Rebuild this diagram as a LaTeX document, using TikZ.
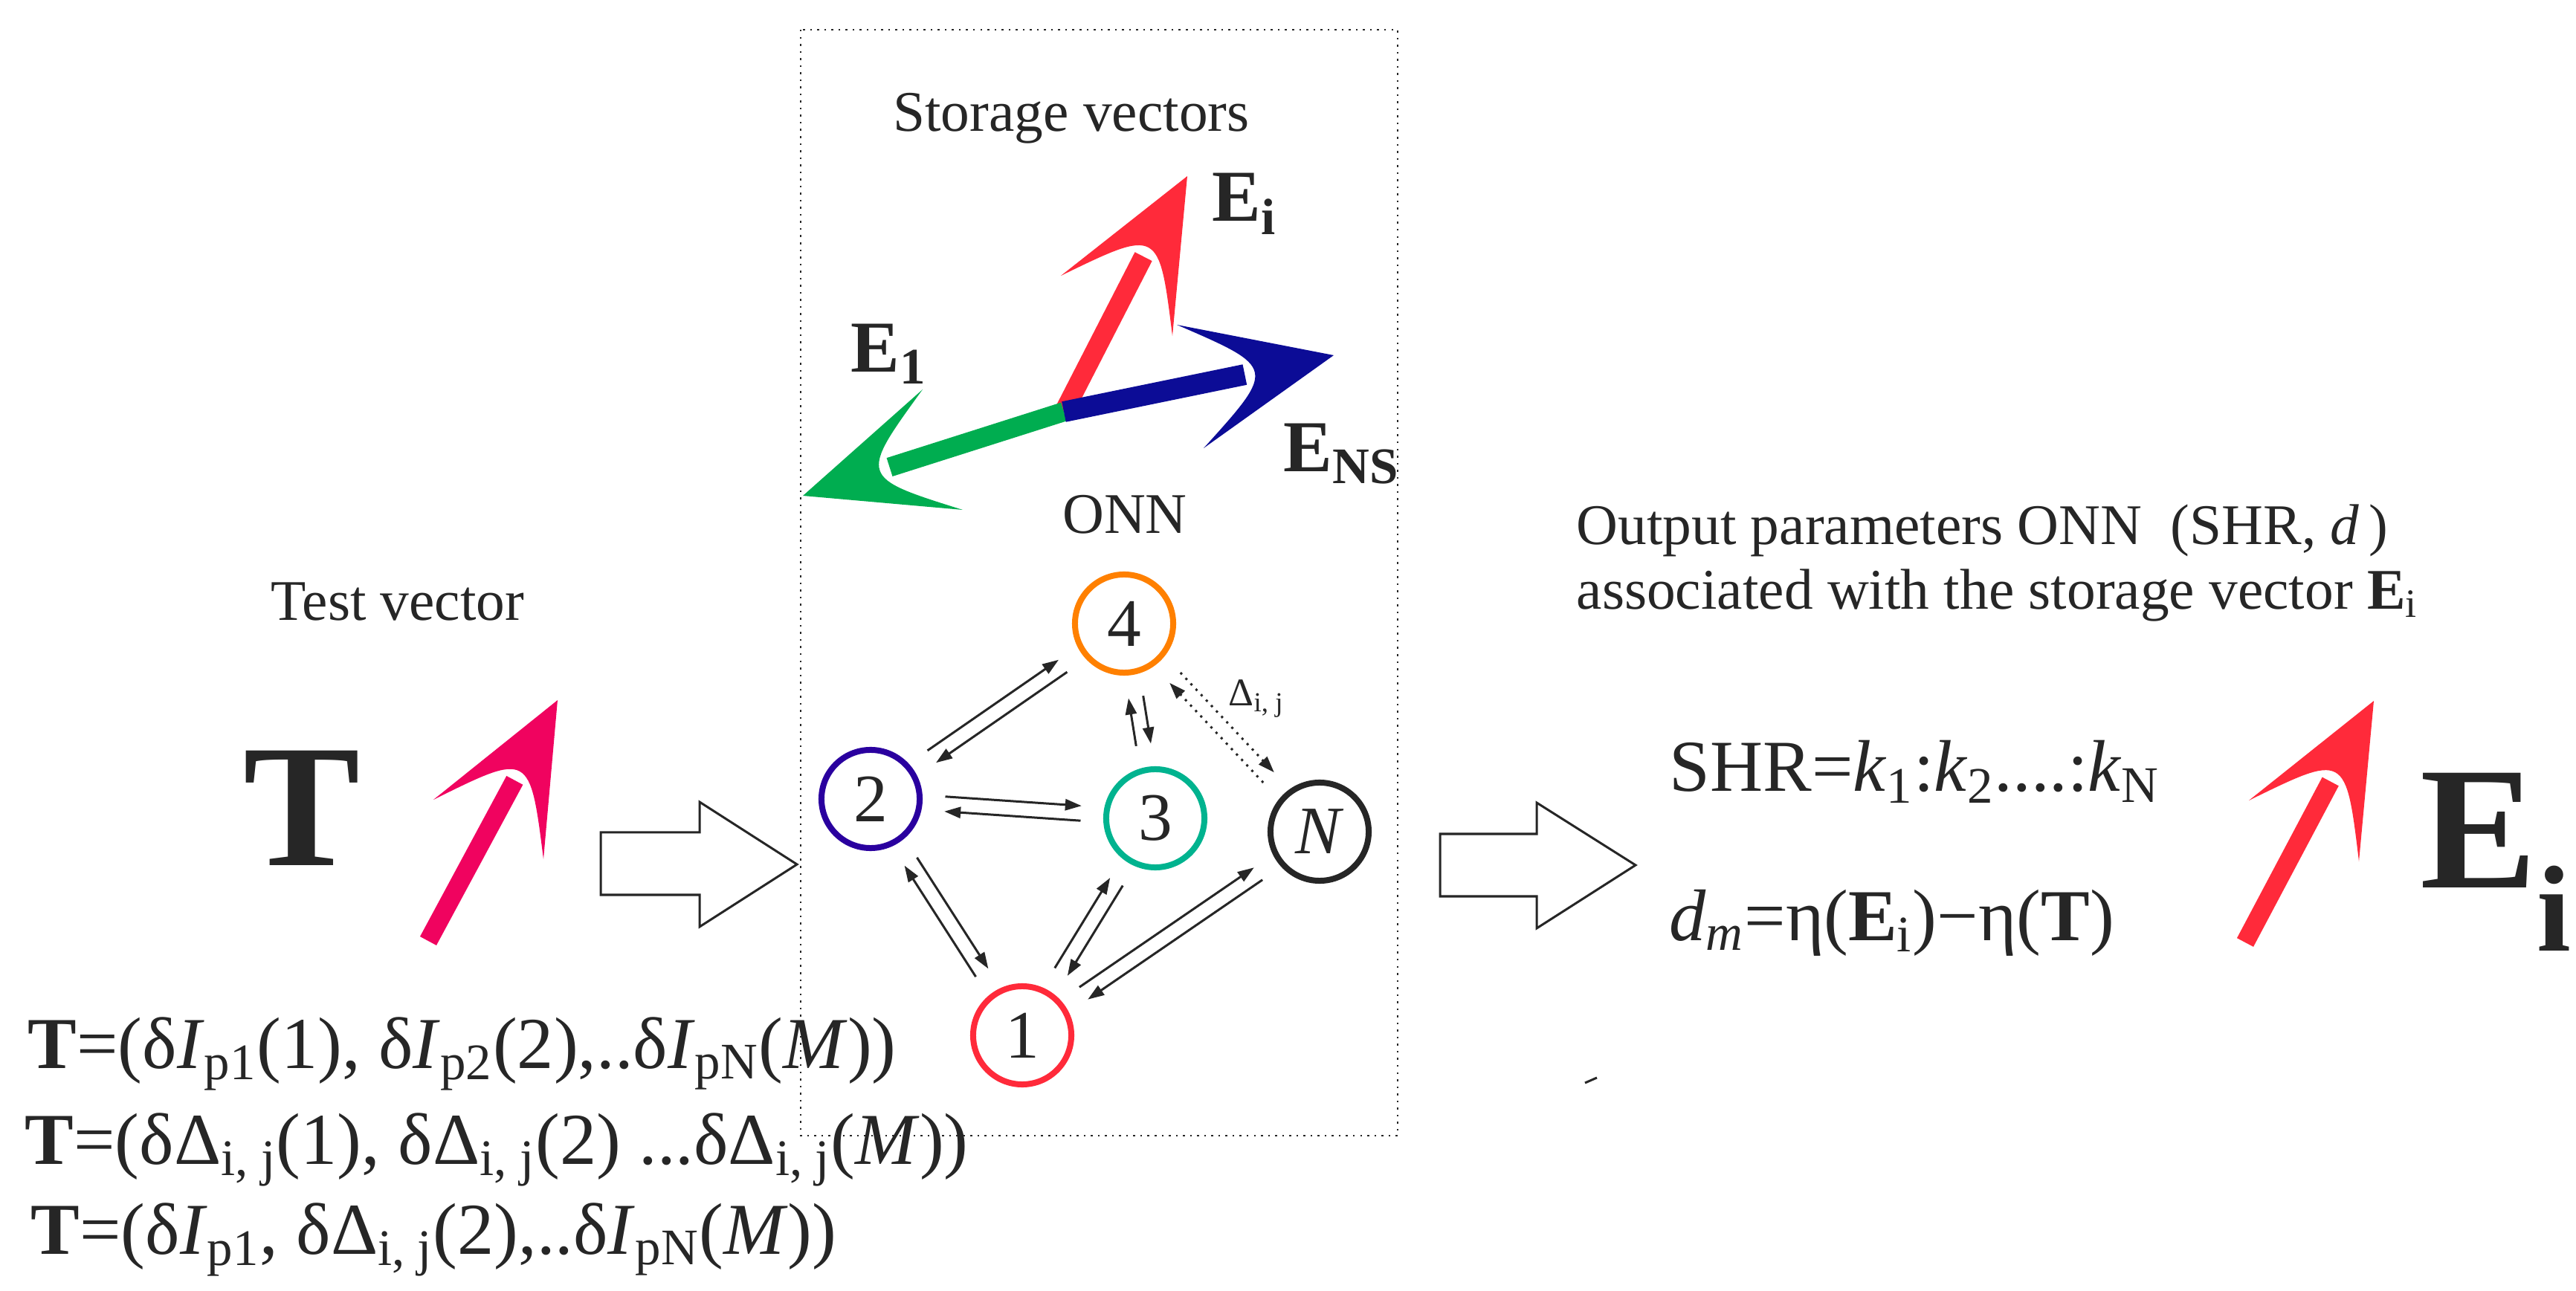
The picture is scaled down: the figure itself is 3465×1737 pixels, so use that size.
\documentclass[tikz,border=0pt]{standalone}
\usepackage{fontspec}
\setmainfont{Liberation Serif}
\usetikzlibrary{calc,arrows.meta}
\definecolor{cred}{HTML}{FF2A3A}
\definecolor{cpink}{HTML}{F0035F}
\definecolor{cblue}{HTML}{0C0C96}
\definecolor{cgreen}{HTML}{00AD50}
\definecolor{corange}{HTML}{FF8000}
\definecolor{cviolet}{HTML}{2A009F}
\definecolor{cteal}{HTML}{00B38F}
\definecolor{cdark}{HTML}{262626}
\newcommand\fatarr[6]{%
  \coordinate (fm) at ($(#5)!0.5!(#6)$);
  \coordinate (fb) at ($(fm)!0.38!(#4)$);
  \draw[#1, line width=#2] (#3) -- (fb);
  \fill[#1] (#4) -- (#5) .. controls ($(fm)!0.6!(#4)$) .. (#6) -- cycle;}
\newcommand\dbl[3][]{%
  \coordinate (s) at ($(#2)!1cm!(#3)$);
  \coordinate (t) at ($(#3)!1cm!(#2)$);
  \draw[e,#1] ($(s)!0.1cm!90:(t)$) -- ($(t)!0.1cm!-90:(s)$);
  \draw[e,#1] ($(t)!0.1cm!90:(s)$) -- ($(s)!0.1cm!-90:(t)$);}
\begin{document}
\begin{tikzpicture}[x=0.01cm,y=-0.01cm,
  txt/.style={text=cdark,inner sep=0pt,font=\fontsize{22}{26}\selectfont},
  eq/.style={text=cdark,inner sep=0pt,anchor=base west,font=\fontsize{28}{32}\selectfont},
  vlab/.style={text=cdark,inner sep=0pt,anchor=base west,font=\fontsize{28}{32}\selectfont\bfseries},
  big/.style={text=cdark,inner sep=0pt,font=\fontsize{67}{70}\selectfont\bfseries},
  nd/.style={circle,draw=#1,line width=0.08cm,minimum size=1.32cm,inner sep=0pt,text=cdark,font=\fontsize{26}{28}\selectfont},
  e/.style={draw=cdark,line width=0.03cm,-{Triangle[length=0.22cm,width=0.15cm]}},
  hollow/.style={draw=cdark,line width=0.03cm,fill=white}]
\useasboundingbox (0,0) rectangle (3465,1737);
% dotted box
\draw[dotted,line width=0.025cm,cdark] (1077,40) rectangle (1880,1528);
% texts
\node[txt] (sv) at (1441,159) {Storage vectors};
\node[txt] (onn) at (1513,692) {ONN};
\node[txt] (tv) at (535,810) {Test vector};
% storage vectors
\coordinate (o) at (1431,554);
\fatarr{cred}{0.26cm}{o}{1597,237}{1427,371}{1577,452}
\fatarr{cgreen}{0.26cm}{o}{1080,667}{1241,524}{1295,686}
\fatarr{cblue}{0.28cm}{o}{1794,478}{1583,437}{1619,603}
\node[vlab] (lEi) at (1630,298) {E\textsubscript{i}};
\node[vlab] (lE1) at (1144,501) {E\textsubscript{1}};
\node[vlab] (lEns) at (1726,635) {E\textsubscript{NS}};
% network
\node[nd=corange] (n4) at (1512,839) {4};
\node[nd=cviolet] (n2) at (1171,1075) {2};
\node[nd=cteal] (n3) at (1554,1101) {3};
\node[nd=cdark] (nN) at (1775,1119) {\textit{N}};
\node[nd=cred] (n1) at (1375,1393) {1};
\dbl{n2}{n4}
\dbl{n2}{n3}
\dbl{n2}{n1}
\dbl{n1}{n3}
\dbl{n1}{nN}
\dbl{n4}{n3}
\dbl[dotted]{n4}{nN}
\node[text=cdark,inner sep=0pt,font=\fontsize{15}{17}\selectfont] (dl) at (1690,940) {Δ\textsubscript{i, j}};
% test vector
\node[big,anchor=base] (bigT) at (406,1165) {T};
\fatarr{cpink}{0.25cm}{576,1266}{750,942}{583,1076}{731,1156}
\draw[hollow] (808,1120) -- (941,1120) -- (941,1079) -- (1072,1163) -- (941,1247) -- (941,1204) -- (808,1204) -- cycle;
% equations
\node[eq] (eq1) at (37,1437) {\textbf{T}=(δ\textit{I}\textsubscript{p1}(1), δ\textit{I}\textsubscript{p2}(2),..δ\textit{I}\textsubscript{pN}(\textit{M}))};
\node[eq] (eq2) at (33,1566) {\textbf{T}=(δΔ\textsubscript{i, j}(1), δΔ\textsubscript{i, j}(2) ...δΔ\textsubscript{i, j}(\textit{M}))};
\node[eq] (eq3) at (41,1687) {\textbf{T}=(δ\textit{I}\textsubscript{p1}, δΔ\textsubscript{i, j}(2),..δ\textit{I}\textsubscript{pN}(\textit{M}))};
% output
\draw[hollow] (1937,1122) -- (2067,1122) -- (2067,1080) -- (2200,1164) -- (2067,1249) -- (2067,1206) -- (1937,1206) -- cycle;
\node[txt,anchor=base west] (op1) at (2120,733) {Output parameters ONN\ \ (SHR, \textit{d}\,)};
\node[txt,anchor=base west] (op2) at (2120,820) {associated with the storage vector \textbf{E}\textsubscript{i}};
\node[eq] (shr) at (2245,1065) {SHR=\textit{k}\textsubscript{1}:\textit{k}\textsubscript{2}....:\textit{k}\textsubscript{N}};
\node[eq] (dm) at (2245,1265) {\textit{d\textsubscript{m}}=η(\textbf{E}\textsubscript{i})−η(\textbf{T})};
\fatarr{cred}{0.25cm}{3020,1268}{3193,943}{3025,1077}{3173,1159}
\node[big,anchor=base west] (bigE) at (3255,1195) {E\textsubscript{i}};
\draw[cdark,line width=0.03cm] (2132,1457) -- (2148,1450);
\end{tikzpicture}
\end{document}
